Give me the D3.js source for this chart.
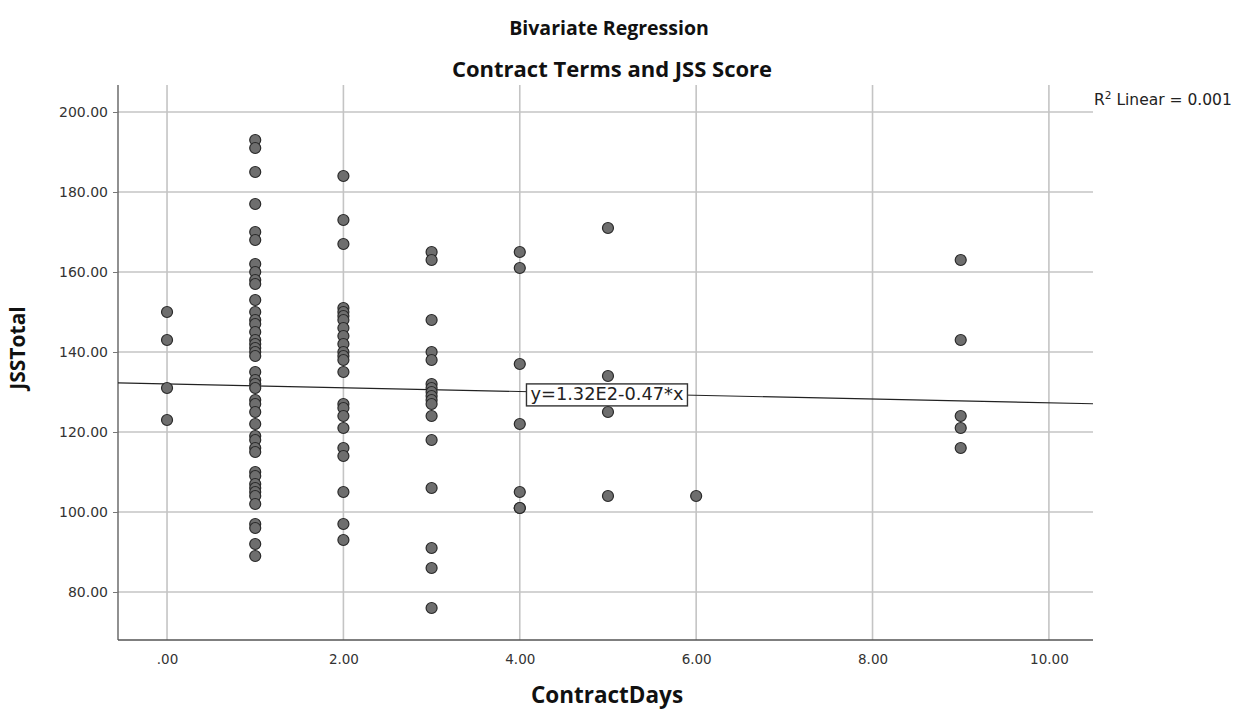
<!DOCTYPE html>
<html>
<head>
<meta charset="utf-8">
<script src="https://cdn.jsdelivr.net/npm/d3@7"></script>
<style>
  html, body { margin: 0; padding: 0; background: #fff; }
  svg { display: block; }
</style>
</head>
<body>
<svg id="chart" width="1239" height="713"></svg>
<script>
// ContractDays groups and the JSSTotal scores observed in each
const days0 = [150, 143, 131, 123];
const days1 = [193, 191, 185, 177, 170, 168, 162, 160, 158, 157, 153, 150, 148, 147, 145, 143,
               142, 141, 140, 139, 135, 133, 132, 131, 128, 127, 125, 122, 119, 118, 116, 115,
               110, 109, 107, 106, 105, 104, 102, 97, 96, 92, 89];
const days2 = [184, 173, 167, 151, 150, 149, 148, 146, 144, 142, 140, 139, 138, 135, 127, 126,
               124, 121, 116, 114, 105, 97, 93];
const days3 = [165, 163, 148, 140, 138, 132, 131, 130, 129, 128, 127, 124, 118, 106, 91, 86, 76];
const days4 = [165, 161, 137, 122, 105, 101, 101];
const days5 = [171, 134, 125, 104];
const days6 = [104];
const days9 = [163, 143, 124, 121, 116];

const groups = [[0, days0], [1, days1], [2, days2], [3, days3], [4, days4], [5, days5], [6, days6], [9, days9]];

// fitted line y = b0 + b1 * x
const intercept = 132;
const slope = -0.47;
const rSquared = "0.001";

const xTicks = [0, 2, 4, 6, 8, 10];
const yTicks = [80, 100, 120, 140, 160, 180, 200];

const points = [];
groups.forEach(([d, vals]) => vals.forEach(v => points.push({ x: d, y: v })));

const svg = d3.select("#chart");
const plotLeft = 118, plotRight = 1093, plotTop = 85, plotBottom = 640;

const x = d3.scaleLinear().domain([-0.556, 10.5]).range([plotLeft, plotRight]);
const y = d3.scaleLinear().domain([68, 206.75]).range([plotBottom, plotTop]);

const tickFont = "'DejaVu Sans', sans-serif";
const fmt = d => d === 0 ? ".00" : d3.format(".2f")(d);

// grid
svg.append("g").selectAll("line").data(yTicks).join("line")
  .attr("x1", plotLeft).attr("x2", plotRight)
  .attr("y1", d => y(d)).attr("y2", d => y(d))
  .attr("stroke", "#c4c4c4").attr("stroke-width", 1.6);
svg.append("g").selectAll("line").data(xTicks).join("line")
  .attr("x1", d => x(d)).attr("x2", d => x(d))
  .attr("y1", plotTop).attr("y2", plotBottom)
  .attr("stroke", "#c4c4c4").attr("stroke-width", 1.6);

// axes
const yAxis = svg.append("g").attr("transform", `translate(${plotLeft},0)`)
  .call(d3.axisLeft(y).tickValues(yTicks).tickFormat(fmt).tickSize(5).tickPadding(5));
const xAxis = svg.append("g").attr("transform", `translate(0,${plotBottom})`)
  .call(d3.axisBottom(x).tickValues(xTicks).tickFormat(fmt).tickSize(0).tickPadding(14));
[yAxis, xAxis].forEach(g => {
  g.select(".domain").attr("stroke", "#555").attr("stroke-width", 1.3);
  g.selectAll(".tick line").attr("stroke", "#777");
  g.selectAll("text").attr("font-family", tickFont).attr("font-size", 14).attr("fill", "#333");
});
yAxis.select(".domain").attr("d", `M0,${plotTop}V${plotBottom}`);
xAxis.select(".domain").attr("d", `M${plotLeft},0H${plotRight}`);
xAxis.selectAll("text").attr("font-size", 13.5);

// regression line
const xd = x.domain();
svg.append("line")
  .attr("x1", x(xd[0])).attr("y1", y(intercept + slope * xd[0]))
  .attr("x2", x(xd[1])).attr("y2", y(intercept + slope * xd[1]))
  .attr("stroke", "#222").attr("stroke-width", 1.2);

// points
svg.append("g").selectAll("circle").data(points).join("circle")
  .attr("cx", d => x(d.x)).attr("cy", d => y(d.y)).attr("r", 5.5)
  .attr("fill", "#6e6e6e").attr("stroke", "#2a2a2a").attr("stroke-width", 1.2);

// equation label
const eqX = 5, eqG = svg.append("g");
const eqText = eqG.append("text")
  .attr("x", x(eqX) - 1).attr("y", y(intercept + slope * eqX) + 6.5)
  .attr("text-anchor", "middle")
  .attr("font-family", tickFont).attr("font-size", 17.8).attr("fill", "#222")
  .text(`y=${(intercept / 100).toFixed(2)}E2-${Math.abs(slope).toFixed(2)}*x`);
const bb = eqText.node().getBBox();
eqG.insert("rect", "text")
  .attr("x", bb.x - 4).attr("y", bb.y + 1).attr("width", bb.width + 8).attr("height", bb.height + 1)
  .attr("fill", "#fff").attr("stroke", "#333").attr("stroke-width", 1.4);

// R² annotation
const r2 = svg.append("text").attr("x", 1094).attr("y", 105)
  .attr("font-family", tickFont).attr("font-size", 15.5).attr("fill", "#222");
r2.append("tspan").text("R");
r2.append("tspan").attr("dy", -6).attr("font-size", 10.5).text("2");
r2.append("tspan").attr("dy", 6).text(` Linear = ${rSquared}`);

// titles
const titleFont = "'Open Sans', sans-serif";
svg.append("text").attr("x", 609).attr("y", 35).attr("text-anchor", "middle")
  .attr("font-family", titleFont).attr("font-weight", "bold").attr("font-size", 19.5).attr("fill", "#111")
  .text("Bivariate Regression");
svg.append("text").attr("x", 612).attr("y", 77).attr("text-anchor", "middle")
  .attr("font-family", titleFont).attr("font-weight", "bold").attr("font-size", 22).attr("fill", "#111")
  .text("Contract Terms and JSS Score");
svg.append("text").attr("x", 607).attr("y", 703).attr("text-anchor", "middle")
  .attr("font-family", titleFont).attr("font-weight", "bold").attr("font-size", 22.5).attr("fill", "#111")
  .text("ContractDays");
svg.append("text").attr("transform", "translate(25,348) rotate(-90)").attr("text-anchor", "middle")
  .attr("font-family", titleFont).attr("font-weight", "bold").attr("font-size", 21).attr("fill", "#111")
  .text("JSSTotal");
</script>
</body>
</html>
